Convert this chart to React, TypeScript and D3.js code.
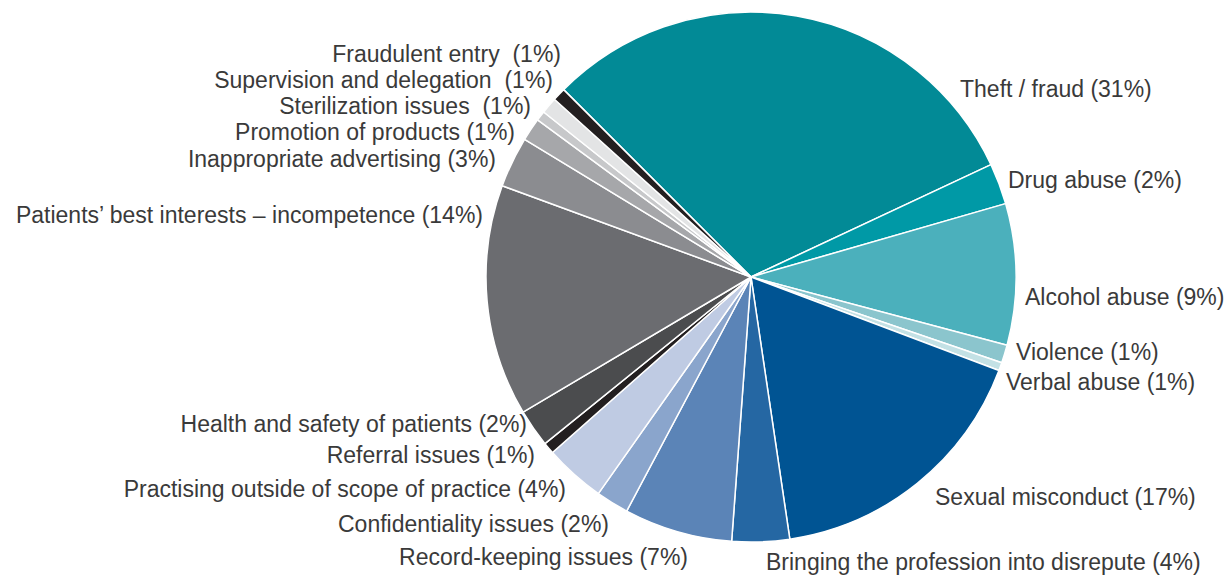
import React from "react";
import * as d3 from "d3";

// Categories in drawing order (clockwise from the top-left)
const categories = [
  "Theft / fraud",
  "Drug abuse",
  "Alcohol abuse",
  "Violence",
  "Verbal abuse",
  "Sexual misconduct",
  "Bringing the profession into disrepute",
  "Record-keeping issues",
  "Confidentiality issues",
  "Practising outside of scope of practice",
  "Referral issues",
  "Health and safety of patients",
  "Patients\u2019 best interests \u2013 incompetence",
  "Inappropriate advertising",
  "Promotion of products",
  "Sterilization issues",
  "Supervision and delegation",
  "Fraudulent entry",
];

// Estimated share of each slice
const shares = [30.5, 2.5, 8.6, 1.1, 0.5, 16.9, 3.5, 6.6, 2.0, 3.7, 0.7, 2.3, 14.1, 3.1, 1.4, 0.6, 1.0, 0.8];

// Percentages printed in the labels
const labelPercents = [31, 2, 9, 1, 1, 17, 4, 7, 2, 4, 1, 2, 14, 3, 1, 1, 1, 1];
// Some labels have a double space before the parenthesis
const labelSeparators = [" ", " ", " ", " ", " ", " ", " ", " ", " ", " ", " ", " ", " ", " ", " ", "  ", "  ", "  "];

const colors = [
  "#028a96", "#0099a6", "#4bb0bc", "#8bc5cd", "#c3e1e5",
  "#005493", "#2567a3", "#5b84b7", "#8aa5cc", "#bfcbe3",
  "#231f20", "#4b4c4e", "#6b6c70", "#8b8c90", "#a6a7aa",
  "#c7c8ca", "#e3e4e5", "#231f20",
];

// Label layout: [x, baseline y, anchor] in page coordinates
const labelLayout: [number, number, string][] = [
  [960, 97, "start"],
  [1008, 188, "start"],
  [1025, 305, "start"],
  [1016, 360, "start"],
  [1006, 390, "start"],
  [935, 505, "start"],
  [766, 570, "start"],
  [688, 565, "end"],
  [609, 532, "end"],
  [566, 497, "end"],
  [535, 463, "end"],
  [527, 432, "end"],
  [483, 223, "end"],
  [496, 167, "end"],
  [515, 140, "end"],
  [531, 114, "end"],
  [553, 88, "end"],
  [561, 62, "end"],
];

const W = 1232;
const H = 578;
const cx = 751;
const cy = 277;
const R = 265;

export default function App() {
  const pie = d3
    .pie<number>()
    .sort(null)
    .value((d) => d)
    .startAngle(-Math.PI / 4)
    .endAngle(2 * Math.PI - Math.PI / 4);
  const arcs = pie(shares);
  const arc = d3.arc<d3.PieArcDatum<number>>().innerRadius(0).outerRadius(R);

  return (
    <svg
      width={W}
      height={H}
      style={{ display: "block", position: "absolute", left: 0, top: 0 }}
    >
      <g transform={`translate(${cx},${cy})`}>
        {arcs.map((a, i) => (
          <path key={i} d={arc(a) || ""} fill={colors[i]} stroke="#ffffff" strokeWidth={1.5} strokeLinejoin="round" />
        ))}
      </g>
      <g
        fontFamily="'Liberation Sans', Arial, Helvetica, sans-serif"
        fontSize={23}
        fill="#3a3a3a"
      >
        {categories.map((c, i) => (
          <text
            key={i}
            x={labelLayout[i][0]}
            y={labelLayout[i][1]}
            textAnchor={labelLayout[i][2]}
            style={{ whiteSpace: "pre" }}
          >
            {`${c}${labelSeparators[i]}(${labelPercents[i]}%)`}
          </text>
        ))}
      </g>
    </svg>
  );
}
